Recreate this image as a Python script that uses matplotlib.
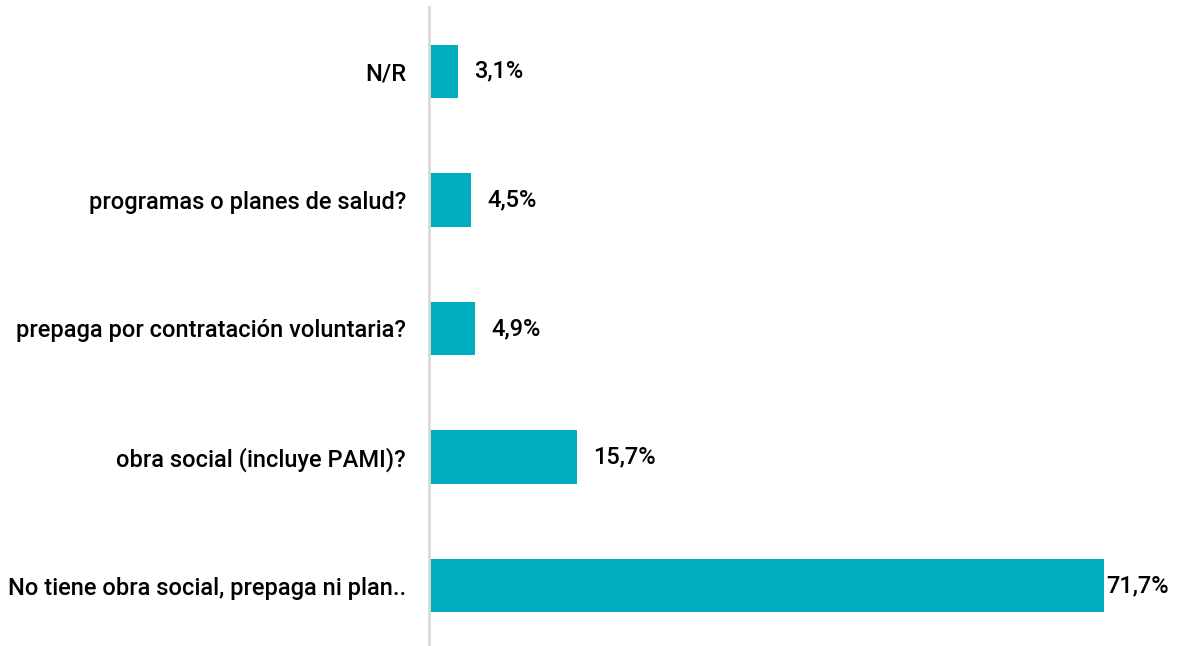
import matplotlib
matplotlib.use("Agg")
import matplotlib.pyplot as plt

categories = ["N/R",
              "programas o planes de salud?",
              "prepaga por contratación voluntaria?",
              "obra social (incluye PAMI)?",
              "No tiene obra social, prepaga ni plan.."]
values = [3.1, 4.5, 4.9, 15.7, 71.7]
value_labels = ["3,1%", "4,5%", "4,9%", "15,7%", "71,7%"]

bar_color = "#00AEC0"
plt.rcParams['font.family'] = ['Roboto', 'DejaVu Sans']

fig = plt.figure(figsize=(11.83, 6.46), dpi=100)
# axes runs a few px past the bottom edge so the bar spacing matches
ax = fig.add_axes([429 / 1183, -4 / 646, (1183 - 429) / 1183, 643 / 646])

ypos = list(range(len(categories)))
ax.barh(ypos, values, height=0.415, color=bar_color)
ax.set_xlim(0, 80.1)
ax.set_ylim(len(categories) - 0.5, -0.5)

ax.set_yticks(ypos)
ax.set_yticklabels(categories, fontsize=17, fontweight="medium", color="black")
ax.tick_params(axis="y", length=0, pad=16.5)
ax.set_xticks([])

for s in ["top", "right", "bottom"]:
    ax.spines[s].set_visible(False)
ax.spines["left"].set_color("#D9D9D9")
ax.spines["left"].set_linewidth(2)

for y, v, lab in zip(ypos, values, value_labels):
    off = 2 if v > 70 else 16
    ax.annotate(lab, (v, y), xytext=(off, 0), textcoords="offset pixels",
                va="center", ha="left", fontsize=17, fontweight="medium",
                color="black")

fig.savefig("out.png", dpi=100)
